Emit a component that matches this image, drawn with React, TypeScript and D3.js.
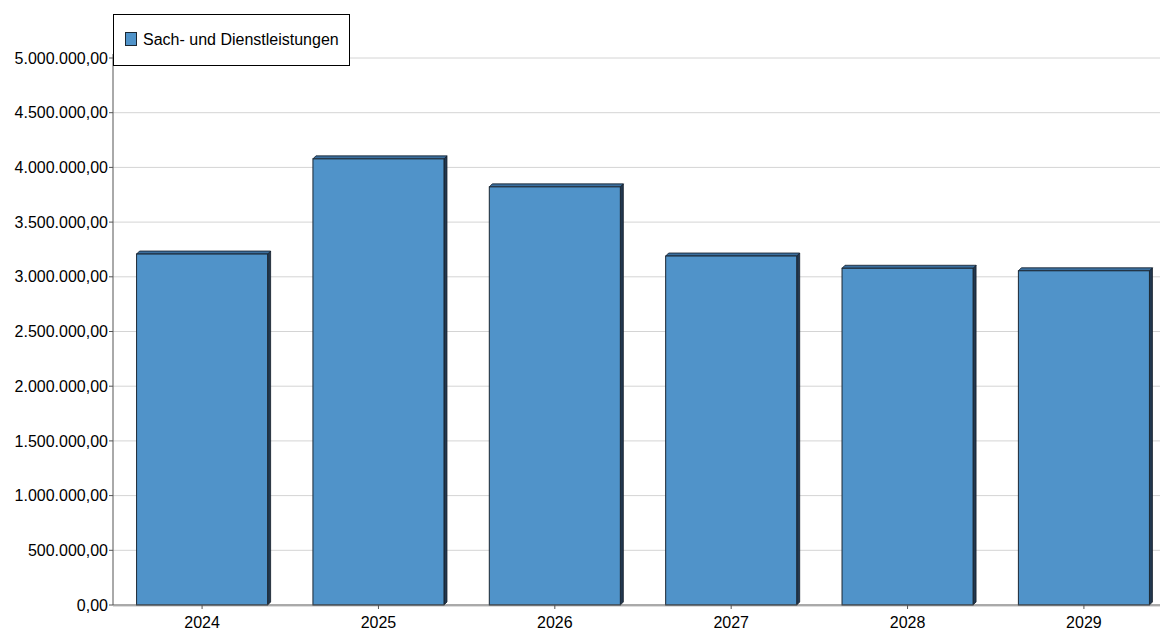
import React from 'react';
import * as d3 from 'd3';

const years = ['2024', '2025', '2026', '2027', '2028', '2029'];
const values = [3208000, 4078000, 3822000, 3190000, 3078000, 3055000];
const yTicks = [0, 500000, 1000000, 1500000, 2000000, 2500000, 3000000, 3500000, 4000000, 4500000, 5000000];
const seriesName = 'Sach- und Dienstleistungen';

const W = 1162;
const H = 630;
const left = 113;
const right = 1160;
const top = 58;
const bottom = 605;
const depth = 3;

const fmt = (v: number) =>
  v.toLocaleString('de-DE', { minimumFractionDigits: 2, maximumFractionDigits: 2 });

export default function App() {
  const x = d3.scaleBand<string>().domain(years).range([114, 1172]).paddingInner(0.257).paddingOuter(0.128);
  const y = d3.scaleLinear().domain([0, 5000000]).range([bottom, top]);
  const font = 'Arial, "Liberation Sans", sans-serif';

  return (
    <svg width={W} height={H} style={{ position: 'absolute', left: 0, top: 0 }} fontFamily={font}>
      <rect width={W} height={H} fill="#fff" />
      {yTicks.map((t) => (
        <g key={t}>
          {t > 0 && <line x1={left} x2={right} y1={y(t)} y2={y(t)} stroke="#d4d4d4" strokeWidth={1} />}
          <line x1={left - 4} x2={left} y1={y(t)} y2={y(t)} stroke="#555" />
          <text x={left - 5} y={y(t)} dy="0.35em" textAnchor="end" fontSize={16} fill="#000">
            {fmt(t)}
          </text>
        </g>
      ))}
      {years.map((yr, i) => {
        const x0 = x(yr)!;
        const bw = x.bandwidth();
        const y0 = y(values[i]);
        const top3d = `M${x0},${y0} L${x0 + depth},${y0 - depth} L${x0 + bw + depth},${y0 - depth} L${x0 + bw},${y0} Z`;
        const side3d = `M${x0 + bw},${y0} L${x0 + bw + depth},${y0 - depth} L${x0 + bw + depth},${bottom - depth} L${x0 + bw},${bottom} Z`;
        return (
          <g key={yr}>
            <path d={side3d} fill="#22384f" stroke="#111c28" strokeWidth={0.8} />
            <path d={top3d} fill="#3b6f9e" stroke="#111c28" strokeWidth={0.8} />
            <rect x={x0} y={y0} width={bw} height={bottom - y0} fill="#5093c9" stroke="#1b2733" strokeWidth={1} />
          </g>
        );
      })}
      <line x1={left} x2={left} y1={top - 4} y2={bottom} stroke="#555" />
      <line x1={left} x2={right} y1={bottom} y2={bottom} stroke="#555" />
      <line x1={left} x2={right} y1={bottom + 1.5} y2={bottom + 1.5} stroke="#ddd" />
      {years.map((yr) => {
        const cx = x(yr)! + x.bandwidth() / 2;
        return (
          <g key={yr}>
            <line x1={cx} x2={cx} y1={bottom} y2={bottom + 4} stroke="#555" />
            <text x={cx} y={bottom + 23} textAnchor="middle" fontSize={16} fill="#000">
              {yr}
            </text>
          </g>
        );
      })}
      <rect x={113.5} y={14.5} width={236} height={51} fill="#fff" stroke="#000" />
      <rect x={125.5} y={32.5} width={11} height={13} fill="#5093c9" stroke="#1b2733" />
      <text x={143} y={39} dy="0.35em" fontSize={16} fill="#000">
        {seriesName}
      </text>
    </svg>
  );
}
